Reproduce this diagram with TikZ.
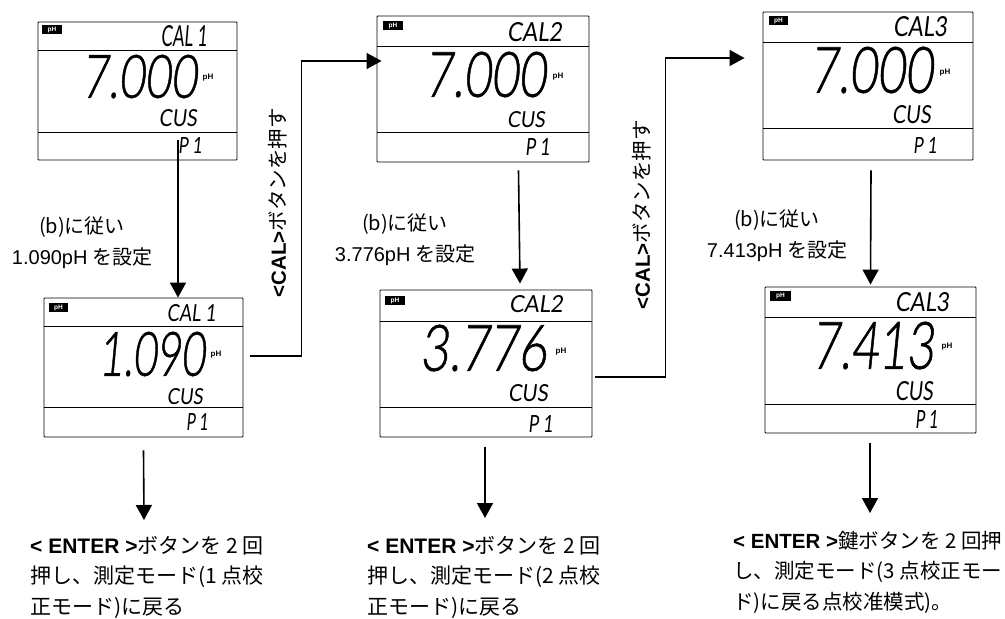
\documentclass[tikz,border=0pt]{standalone}
\usepackage{fontspec}
\usepackage{graphicx}
\setmainfont{Noto Sans CJK JP}
\newfontfamily\lat{Liberation Sans}
\newfontfamily\lcd[FakeSlant=0.14,Numbers=Lining]{Lato}
\newfontfamily\lcdbig[FakeSlant=0.14,FakeBold=1,Numbers=Lining]{Lato Light}
\usetikzlibrary{arrows.meta}
\tikzset{
  panel/.style={draw=black,line width=0.9pt,inner sep=0pt,rounded corners=0.8pt},
  rule/.style={draw=black,line width=1pt},
  arr/.style={draw=black,line width=1.6pt,-{Triangle[length=15pt,width=16pt]}},
  lcdtxt/.style={inner sep=0pt,outer sep=0pt},
  badge/.style={fill=black,text=white,inner sep=0pt,font=\lat\bfseries\fontsize{6.5}{7}\selectfont},
  unit/.style={inner sep=0pt,font=\lat\bfseries\fontsize{8}{9}\selectfont},
  lab/.style={inner sep=0pt,align=center,font=\fontsize{20}{31}\selectfont},
  note/.style={inner sep=0pt,align=left,anchor=north west,font=\fontsize{21}{30.5}\selectfont},
  noteb/.style={note,font=\fontsize{20.5}{30.5}\selectfont},
  vert/.style={inner sep=0pt,rotate=90,font=\fontsize{20.5}{22}\selectfont}
}
% name, x0, y0, x1, y1, text
\newcommand{\lcdt}[6]{\node[lcdtxt] (#1) at ({(#2+#4)/2},{(#3+#5)/2}) {\resizebox{\dimexpr #4pt-#2pt\relax}{\dimexpr #5pt-#3pt\relax}{\lcd #6}};}
\newcommand{\lcdb}[6]{\node[lcdtxt] (#1) at ({(#2+#4)/2},{(#3+#5)/2}) {\resizebox{\dimexpr #4pt-#2pt\relax}{\dimexpr #5pt-#3pt\relax}{\lcdbig #6}};}
% name, x0, y0, x1, y1, rule1, rule2
\newcommand{\lcdpanel}[7]{%
  \node[panel,minimum width=\dimexpr #4pt-#2pt\relax,minimum height=\dimexpr #5pt-#3pt\relax] (#1) at ({(#2+#4)/2},{(#3+#5)/2}) {};
  \draw[rule] (#2,#6) -- (#4,#6);
  \draw[rule] (#2,#7) -- (#4,#7);
}
% name, x0, y0, x1, y1
\newcommand{\phbadge}[5]{\node[badge,minimum width=\dimexpr #4pt-#2pt\relax,minimum height=\dimexpr #5pt-#3pt\relax] (#1) at ({(#2+#4)/2},{(#3+#5)/2}) {pH};}
\begin{document}
\begin{tikzpicture}[x=1pt,y=-1pt]
\useasboundingbox (0,0) rectangle (1005,619);
% panels
\lcdpanel{pa}{38}{22}{237}{160}{50}{132}
\lcdpanel{pb}{44}{298}{243}{437}{326}{407}
\lcdpanel{pc}{377}{16}{589}{162}{46}{132}
\lcdpanel{pd}{380}{290}{592}{437}{321}{407}
\lcdpanel{pe}{763}{12}{973}{160}{42}{128}
\lcdpanel{pf}{765}{287}{976}{433}{317}{404}
% badges
\phbadge{ba}{42}{25}{62}{34}
\phbadge{bb}{49}{303}{68}{312}
\phbadge{bc}{383}{21}{403}{30}
\phbadge{bd}{385}{296}{405}{305}
\phbadge{be}{769}{16}{788}{25}
\phbadge{bf}{770}{291}{791}{301}
% panel a
\lcdt{a1}{161}{26}{207}{47}{CAL 1}
\lcdb{a2}{82}{55}{197}{98}{7.000}
\node[unit] (a3) at (208,78) {pH};
\lcdt{a4}{159}{110}{197}{127}{CUS}
\lcdt{a5}{178}{137}{202}{153}{P 1}
% panel b
\lcdt{b1}{167}{305}{216}{322}{CAL 1}
\lcdb{b2}{99}{332}{205}{376}{1.090}
\node[unit] (b3) at (216,355) {pH};
\lcdt{b4}{167}{389}{203}{405}{CUS}
\lcdt{b5}{186}{413}{208}{430}{P 1}
% panel c
\lcdt{c1}{507}{23}{562}{42}{CAL2}
\lcdb{c2}{425}{52}{546}{97}{7.000}
\node[unit] (c3) at (558,77) {pH};
\lcdt{c4}{507}{112}{545}{128}{CUS}
\lcdt{c5}{525}{138}{550}{155}{P 1}
% panel d
\lcdt{d1}{509}{296}{563}{313}{CAL2}
\lcdb{d2}{420}{325}{547}{371}{3.776}
\node[unit] (d3) at (561,352) {pH};
\lcdt{d4}{508}{385}{548}{402}{CUS}
\lcdt{d5}{528}{415}{553}{432}{P 1}
% panel e
\lcdt{e1}{893}{17}{947}{37}{CAL3}
\lcdb{e2}{810}{47}{933}{93}{7.000}
\node[unit] (e3) at (945,73) {pH};
\lcdt{e4}{892}{106}{931}{124}{CUS}
\lcdt{e5}{913}{137}{937}{153}{P 1}
% panel f
\lcdt{f1}{895}{293}{949}{312}{CAL3}
\lcdb{f2}{812}{322}{934}{369}{7.413}
\node[unit] (f3) at (947,347) {pH};
\lcdt{f4}{895}{382}{933}{401}{CUS}
\lcdt{f5}{915}{410}{938}{428}{P 1}
% labels
\node[lab] (l1) at (82,243) {(b)に従い\\{\lat 1.090pH} を設定};
\node[lab] (l2) at (405,240) {(b)に従い\\{\lat 3.776pH} を設定};
\node[lab] (l3) at (777,236) {(b)に従い\\{\lat 7.413pH} を設定};
\node[vert] (v1) at (278,203) {{\lat\bfseries <CAL>}ボタンを押す};
\node[vert] (v2) at (642,215) {{\lat\bfseries <CAL>}ボタンを押す};
\node[note] (n1) at (30,536) {{\lat\bfseries < ENTER >}ボタンを 2 回\\押し、測定モード(1 点校\\正モード)に戻る};
\node[note] (n2) at (367,536) {{\lat\bfseries < ENTER >}ボタンを 2 回\\押し、測定モード(2 点校\\正モード)に戻る};
\node[noteb] (n3) at (733,531) {{\lat\bfseries < ENTER >}鍵ボタンを 2 回押\\し、測定モード(3 点校正モー\\ド)に戻る点校准模式)。};
% arrows
\draw[arr] ([xshift=34.5pt,yshift=20pt]pa.south -| pb.south) -- ([xshift=34.5pt]pb.north);
\draw[arr] ([xshift=7pt,yshift=11.5pt]pb.east) -| ++(51,0) |- ([xshift=5pt,yshift=28pt]pc.west);
\draw[arr] ([xshift=35.5pt,yshift=-8pt]pc.south) -- ([xshift=34pt,yshift=6pt]pd.north);
\draw[arr] ([xshift=3pt,yshift=-13.5pt]pd.east) -| ++(70,0) |- ([xshift=-18pt,yshift=28pt]pe.west);
\draw[arr] ([xshift=3pt,yshift=-10pt]pe.south) -- ([yshift=2pt,xshift=0pt]pf.north);
\coordinate (ca) at (144,520);
\coordinate (cb) at (485,518);
\coordinate (cc) at (870,513);
\draw[arr] ([yshift=-13pt]pb.south) -- (ca);
\draw[arr] ([xshift=-1pt,yshift=-10pt]pd.south) -- (cb);
\draw[arr] ([xshift=-0.5pt,yshift=-10pt]pf.south) -- (cc);
\end{tikzpicture}
\end{document}
